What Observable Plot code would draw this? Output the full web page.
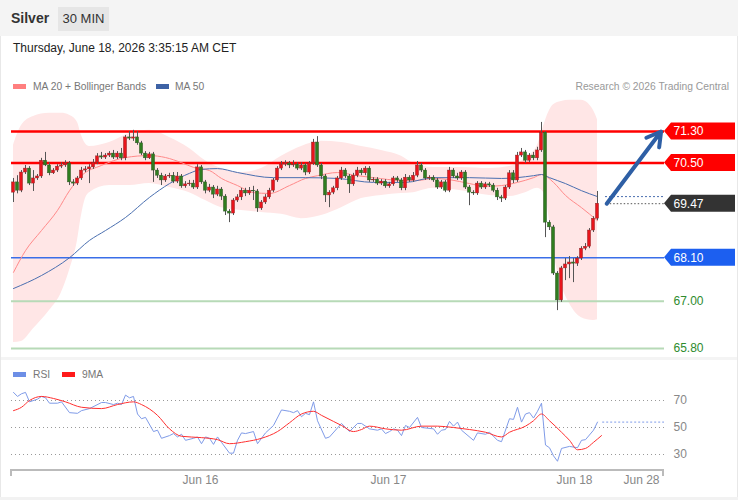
<!DOCTYPE html>
<html><head><meta charset="utf-8">
<script src="https://cdn.jsdelivr.net/npm/d3@7"></script>
<script src="https://cdn.jsdelivr.net/npm/@observablehq/plot@0.6"></script>
<style>
body{margin:0;width:738px;height:500px;overflow:hidden;font-family:"Liberation Sans",Arial,sans-serif;background:#fff;position:relative;}
.abs{position:absolute;white-space:nowrap}
.sw{position:absolute;width:13px;height:5px}
.lg{position:absolute;font-size:10.3px;color:#777;line-height:13px;white-space:nowrap}
</style></head><body>
<div class="abs" style="left:0;top:0;width:738px;height:36px;background:#f4f4f4"></div>
<div class="abs" style="left:0;top:36px;width:1px;height:464px;background:#e8e8e8"></div>
<div class="abs" style="left:737px;top:36px;width:1px;height:464px;background:#e8e8e8"></div>
<div class="abs" style="left:11px;top:10px;font-size:14px;font-weight:bold;color:#333">Silver</div>
<div class="abs" style="left:58px;top:7px;width:51px;height:24px;background:#e6e6e6;font-size:13px;color:#333;line-height:24px;text-align:center">30 MIN</div>
<div class="abs" style="left:13px;top:41px;font-size:12px;color:#222">Thursday, June 18, 2026 3:35:15 AM CET</div>
<div class="sw" style="left:13px;top:84px;background:#ff7f7f"></div>
<div class="lg" style="left:33px;top:80px">MA 20 + Bollinger Bands</div>
<div class="sw" style="left:156px;top:84px;background:#3d62a5"></div>
<div class="lg" style="left:175px;top:80px">MA 50</div>
<div class="lg" style="right:9px;top:80px;color:#999">Research © 2026 Trading Central</div>
<div id="price" class="abs" style="left:0;top:95px"></div>
<div class="abs" style="left:1px;top:357px;width:736px;height:3px;background:#f4f4f4"></div>
<div class="sw" style="left:13px;top:372px;background:#6d8fe6"></div>
<div class="lg" style="left:33px;top:368px">RSI</div>
<div class="sw" style="left:62px;top:372px;background:#ff1a1a"></div>
<div class="lg" style="left:82px;top:368px">9MA</div>
<div id="rsi" class="abs" style="left:0;top:380px"></div>
<div class="abs" style="left:0;top:497px;width:738px;height:3px;background:#f2f2f2"></div>
<script>
// ---------- data ----------
const firstOpen = 69.75;
const closes = [70.01,69.80,70.26,70.36,69.98,70.11,70.16,70.56,70.44,70.24,
70.31,70.41,70.44,70.49,70.01,69.98,70.11,70.31,70.34,70.39,
70.51,70.67,70.64,70.69,70.74,70.64,70.74,70.62,71.15,71.12,
71.15,71.00,70.74,70.62,70.72,70.31,70.18,70.06,70.16,70.18,
70.03,70.16,69.91,69.96,69.98,69.88,70.39,70.01,69.80,69.88,
69.70,69.83,69.65,69.27,69.22,69.55,69.63,69.80,69.73,69.80,
69.78,69.35,69.50,69.63,69.80,70.06,70.36,70.46,70.49,70.44,
70.46,70.36,70.44,70.26,70.49,71.02,70.44,70.16,69.68,69.75,
69.86,70.11,70.31,70.16,69.96,70.18,70.31,70.24,70.36,70.06,
70.08,69.98,70.03,69.91,69.96,70.11,70.06,69.86,70.13,70.06,
70.18,70.44,70.31,70.11,70.13,70.06,69.88,70.01,69.80,70.31,
70.16,70.11,70.26,69.88,69.75,69.73,69.98,69.88,69.96,69.93,
69.80,69.63,69.60,69.88,70.24,70.06,70.69,70.77,70.56,70.69,
70.62,70.82,71.27,68.99,68.87,67.70,67.02,67.83,67.93,67.98,
67.95,68.08,68.33,68.38,68.79,69.09,69.47];
const highs = [70.11,70.18,70.31,70.44,70.41,70.31,70.21,70.62,70.77,70.51,
70.36,70.46,70.51,70.56,70.54,70.08,70.16,70.39,70.41,70.46,
70.59,70.74,70.77,70.74,70.79,70.82,70.79,70.87,71.20,71.30,
71.33,71.30,71.05,70.79,70.77,70.77,70.36,70.24,70.21,70.24,
70.26,70.26,70.21,70.03,70.06,70.06,70.46,70.44,70.06,69.96,
69.93,69.91,69.88,69.70,69.32,69.60,69.70,69.86,69.86,69.88,
69.91,69.83,69.55,69.70,69.86,70.11,70.41,70.54,70.56,70.54,
70.56,70.51,70.51,70.49,70.54,71.10,71.17,70.49,70.21,69.80,
69.91,70.16,70.39,70.36,70.21,70.24,70.39,70.36,70.41,70.41,
70.13,70.13,70.08,70.08,70.01,70.16,70.16,70.11,70.21,70.18,
70.26,70.54,70.49,70.36,70.18,70.18,70.11,70.06,70.06,70.39,
70.36,70.24,70.31,70.31,69.93,69.80,70.03,70.03,70.01,70.01,
69.98,69.86,69.68,69.93,70.31,70.31,70.77,70.87,70.82,70.74,
70.77,70.90,71.53,71.30,69.04,68.92,67.75,67.88,68.08,68.13,
68.08,68.13,68.38,68.46,68.84,69.14,69.78];
const lows = [69.50,69.72,69.75,70.21,69.93,69.78,70.06,70.11,70.41,70.18,
70.21,70.26,70.36,70.39,69.93,69.91,69.93,70.06,70.26,69.98,
70.34,70.46,70.59,70.59,70.64,70.59,70.59,70.56,70.56,71.07,
71.05,70.95,70.69,70.56,70.59,70.01,70.11,69.93,70.01,70.11,
69.98,69.98,69.86,69.86,69.91,69.83,69.83,69.96,69.72,69.75,
69.60,69.65,69.55,69.17,68.99,69.17,69.50,69.55,69.65,69.68,
69.55,69.25,69.30,69.45,69.58,69.75,70.01,70.31,70.41,70.36,
70.39,70.31,70.31,70.18,70.21,70.44,70.39,70.08,69.50,69.37,
69.70,69.80,70.06,70.11,69.73,69.91,70.13,70.18,70.18,70.01,
70.01,69.93,69.93,69.86,69.86,69.91,70.01,69.80,69.80,70.01,
70.01,70.13,70.26,70.06,70.06,70.01,69.83,69.83,69.75,69.75,
70.11,70.06,70.06,69.83,69.42,69.68,69.68,69.83,69.83,69.88,
69.75,69.55,69.50,69.55,69.83,69.98,70.01,70.64,70.49,70.51,
70.56,70.56,70.77,68.61,68.79,67.65,66.76,66.97,67.52,67.57,
67.47,67.88,68.03,68.28,68.33,68.74,69.04];

const ma20Idx = [0,3,7,11,14,17,22,28,34,38,42,45,49,52,56,60,64,69,73,76,81,86,90,97,101,105,109,114,118,122,126,130,132,135,138,142,146];
const ma20Val = [67.73,68.28,68.79,69.30,69.80,70.18,70.44,70.64,70.69,70.64,70.51,70.39,70.31,70.11,69.93,69.75,69.73,69.93,70.11,70.18,70.26,70.18,70.13,70.06,70.06,70.11,70.08,69.98,69.91,69.93,70.01,70.13,70.21,70.01,69.68,69.37,69.04];
const ma50Idx = [0,7,14,19,23,28,34,39,44,47,51,56,65,73,81,90,98,105,114,122,130,132,134,138,142,146];
const ma50Val = [67.32,67.65,68.10,68.54,68.79,69.12,69.63,69.98,70.24,70.34,70.36,70.26,70.13,70.13,70.11,70.01,70.01,70.13,70.13,70.11,70.18,70.21,70.13,69.98,69.80,69.65];
const bandIdx = [0,2,5,9,12,14,16,17,18,19,24,29,34,39,44,48,52,57,62,67,72,77,82,87,92,97,100,105,112,119,124,128,131,133,134,135,137,139,142,145,146];
const bandUpper = [70.95,71.45,71.68,71.76,71.76,71.71,71.53,71.20,70.99,70.92,71.02,71.25,71.33,71.15,70.87,70.56,70.36,70.26,70.36,70.67,70.92,71.05,71.02,70.92,70.82,70.67,70.49,70.39,70.39,70.36,70.41,70.62,70.95,71.58,71.83,71.98,72.06,72.09,72.09,71.83,71.60];
const bandLower = [65.95,65.98,66.30,66.76,67.22,67.78,68.54,69.17,69.60,69.75,69.93,69.93,69.98,69.88,69.75,69.55,69.37,69.30,69.25,69.20,69.09,69.17,69.37,69.60,69.68,69.73,69.75,69.86,69.80,69.68,69.65,69.75,69.86,69.68,69.04,68.28,67.40,66.94,66.58,66.51,66.53];

const rsiIdx = [0,1,2,3,4,6,7,8,9,11,12,14,16,17,19,22,23,25,26,27,28,29,30,31,32,33,35,36,37,39,40,41,42,43,45,46,47,48,49,50,51,52,54,55,56,57,58,60,61,63,65,67,69,70,71,72,73,74,75,76,78,79,82,84,86,87,89,91,92,93,94,95,96,97,98,99,101,102,105,106,107,108,109,110,111,112,115,116,118,119,121,122,124,125,126,127,128,129,130,131,132,133,134,135,136,137,139,141,142,143,145,146];
const rsiVal = [76,73,75,76,69,71,73,72,68,68,69,61,60.5,62.5,64,68.5,68.5,67,68,67,74,72,73,60,56.5,57.5,47,48,42,44,45.5,43,45,40.5,42,43,38,43,42,37.5,43,39,31,31,40.5,46,45.5,47,38,46,51.5,63,62,61,62.5,58,60.5,59.5,69,55,42,43,53,47,53,53,49,48,49,45.5,47,49,48,44,51.5,50,57.5,50,49,45,48,48.5,54.5,51,54,48,40.5,46,45,46.5,40.5,39.5,56.5,56,65,54,60,61,57,62,68,37,35,29,25,34.5,36,35,40.5,41,48,54];
const rsiMaIdx = [0,2,4,7,10,13,17,22,26,30,32,36,39,42,47,51,54,58,62,66,69,72,75,77,80,82,85,87,89,93,97,102,106,110,114,118,122,124,128,130,132,134,137,139,141,143,145,147];
const rsiMaVal = [62.5,65,70,73,71.5,69,65,64,67,69,67,59,49,43.5,42.5,41,38,39.5,42,47,53.5,60,62,59,54.5,51.5,47,48.5,51,49,48,51,51,50,48.5,46.5,43,46.5,51,55,60,55,46.5,40.5,33.5,34.5,39,44];
const rsiLevels = [70, 50, 30];

const levelValues = [71.30, 70.50, 69.47, 68.10, 67.00, 65.80];
const levelLabels = ["71.30", "70.50", "69.47", "68.10", "67.00", "65.80"];
const tickIdx = [46.75, 93.75, 140.25, 157];
const tickLabels = ["Jun 16", "Jun 17", "Jun 18", "Jun 28"];
const arrowFrom = {i: 148.3, v: 69.47};
const arrowTo = {i: 161.9, v: 71.30};

// ---------- derived tables ----------
const candles = closes.map((c, i) => ({i, open: i ? closes[i - 1] : firstOpen, close: c, high: highs[i], low: lows[i]}));
const up = candles.filter(d => d.close >= d.open), dn = candles.filter(d => d.close < d.open);
const band = bandIdx.map((i, k) => ({i, hi: bandUpper[k], lo: bandLower[k]}));
const ma20 = ma20Idx.map((i, k) => ({i, v: ma20Val[k]}));
const ma50 = ma50Idx.map((i, k) => ({i, v: ma50Val[k]}));
const rsi = rsiIdx.map((i, k) => ({i, v: rsiVal[k]}));
const rsiMa = rsiMaIdx.map((i, k) => ({i, v: rsiMaVal[k]}));
const levels = levelValues.map((v, k) => ({v, t: levelLabels[k]}));
const tags = levels.slice(0, 4);
const tagFill = ["#ff0000", "#ff0000", "#333333", "#1c5ff0"];

const xDomain = [-0.5, 162.75], xEnd = 162.75, labelX = 165, tagRight = 180.5;
const font = "'Liberation Sans', Arial, sans-serif";

const tagMark = (index, scales) => {
  const g = d3.create("svg:g");
  const tip = scales.x(xEnd), right = scales.x(tagRight);
  tags.forEach((d, k) => {
    const y = scales.y(d.v);
    g.append("path").attr("d", `M${tip},${y}L${tip + 7},${y - 8.5}H${right}V${y + 8.5}H${tip + 7}Z`).attr("fill", tagFill[k]);
  });
  return g.node();
};

const pricePlot = Plot.plot({
  width: 738, height: 262, marginLeft: 11, marginRight: 74, marginTop: 0, marginBottom: 0,
  x: {domain: xDomain, range: [11, 664], axis: null},
  y: {domain: [65.80, 71.30], range: [253, 36], axis: null},
  style: {background: "transparent", fontFamily: font, overflow: "visible"},
  marks: [
    Plot.areaY(band, {x: "i", y1: "lo", y2: "hi", fill: "#ffe6e6", curve: "monotone-x"}),
    Plot.ruleY([levelValues[4], levelValues[5]], {stroke: "#b7dab7", strokeWidth: 2}),
    Plot.ruleY([levelValues[3]], {stroke: "#3a6ee8", strokeWidth: 1.6}),
    Plot.ruleY([levelValues[0], levelValues[1]], {stroke: "#ff0000", strokeWidth: 2.4}),
    Plot.line(ma20, {x: "i", y: "v", stroke: "#ff8a8a", strokeWidth: 1, curve: "monotone-x"}),
    Plot.line(ma50, {x: "i", y: "v", stroke: "#4a6fb0", strokeWidth: 1, curve: "monotone-x"}),
    Plot.ruleX(candles, {x: "i", y1: "low", y2: "high", stroke: "#555", strokeWidth: 1}),
    Plot.rect(up, {x1: d => d.i - 0.4, x2: d => d.i + 0.4, y1: "open", y2: "close", fill: "#e8141b", stroke: "#7a2a2a", strokeWidth: 0.4}),
    Plot.rect(dn, {x1: d => d.i - 0.4, x2: d => d.i + 0.4, y1: "open", y2: "close", fill: "#2f7d1f", stroke: "#2b4a22", strokeWidth: 0.4}),
    Plot.ruleY([ma50Val[ma50Val.length - 1]], {x1: 148, x2: xEnd, stroke: "#4a6fb0", strokeDasharray: "2,2"}),
    Plot.ruleY([levelValues[2]], {x1: 148.3, x2: xEnd, stroke: "#555", strokeDasharray: "1.5,2"}),
    Plot.arrow([{x1: arrowFrom.i, y1: arrowFrom.v, x2: arrowTo.i, y2: arrowTo.v}], {x1: "x1", y1: "y1", x2: "x2", y2: "y2", stroke: "#2e5fa5", strokeWidth: 4, headLength: 6}),
    tagMark,
    Plot.text(tags, {x: () => labelX, y: "v", text: "t", fill: "#fff", textAnchor: "start", fontSize: 12}),
    Plot.text(levels.slice(4), {x: () => labelX, y: "v", text: "t", fill: "#2e8b2e", textAnchor: "start", fontSize: 12})
  ]
});
document.getElementById("price").append(pricePlot);

const axisMark = (index, scales, values, dims) => {
  const g = d3.create("svg:g").attr("stroke", "#bbb").attr("stroke-width", 2).attr("fill", "none");
  const yb = dims.height - dims.marginBottom;
  const x0 = scales.x(xDomain[0]), x1 = scales.x(xEnd) - 1;
  g.append("path").attr("d", `M${x0},${yb + 6}V${yb}H${x1}V${yb + 6}`);
  return g.node();
};

const rsiPlot = Plot.plot({
  width: 738, height: 120, marginLeft: 11, marginRight: 74, marginTop: 0, marginBottom: 30,
  x: {domain: xDomain, range: [11, 664], axis: null},
  y: {domain: [30, 70], range: [74, 20], axis: null},
  style: {background: "transparent", fontFamily: font, overflow: "visible"},
  marks: [
    Plot.ruleY(rsiLevels, {stroke: "#999", strokeDasharray: "1,3"}),
    Plot.line(rsi, {x: "i", y: "v", stroke: "#7f9be8", strokeWidth: 1}),
    Plot.ruleY([rsiVal[rsiVal.length - 1]], {x1: rsiIdx[rsiIdx.length - 1] + 1.3, x2: xEnd, stroke: "#7f9be8", strokeDasharray: "2,2"}),
    Plot.line(rsiMa, {x: "i", y: "v", stroke: "#ff3030", strokeWidth: 1, curve: "monotone-x"}),
    axisMark,
    Plot.text(rsiLevels, {x: () => labelX, y: d => d, text: d => String(d), fill: "#888", textAnchor: "start", fontSize: 12}),
    Plot.text(tickIdx, {x: d => d, text: (d, i) => tickLabels[i], frameAnchor: "bottom", dy: 13, fill: "#888", fontSize: 12})
  ]
});
document.getElementById("rsi").append(rsiPlot);
</script>
</body></html>
